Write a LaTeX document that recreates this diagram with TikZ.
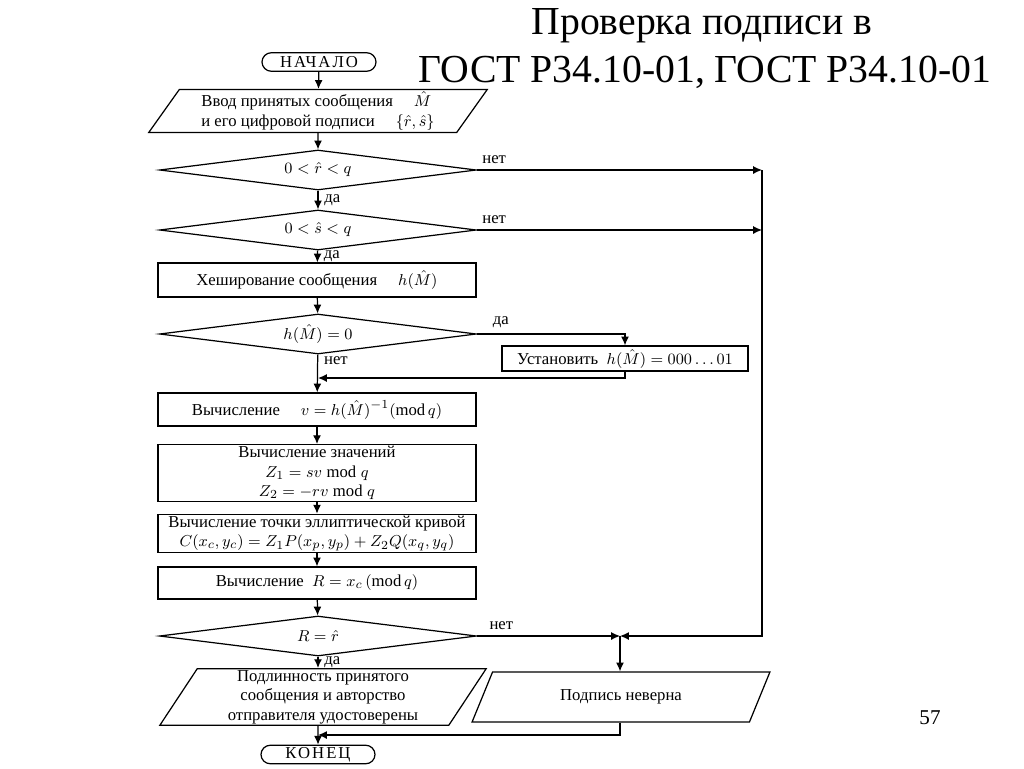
\documentclass[tikz,border=0pt]{standalone}
\usepackage{fontspec}
\setmainfont{Liberation Serif}
\newfontfamily\spacedfont[LetterSpace=12]{Liberation Serif}
\usetikzlibrary{arrows.meta, positioning, shapes, calc}

\begin{document}
\begin{tikzpicture}[x=0.02cm, y=-0.02cm, line width=0.7pt,
    font=\fontsize{9.5}{11}\selectfont,
    >={Latex[length=5pt,width=4.5pt]},
    term/.style={rounded rectangle, draw, minimum width=2.28cm, minimum height=0.37cm, inner sep=0pt,
        font=\spacedfont\fontsize{9.5}{11}\selectfont},
    proc/.style={rectangle, draw, minimum width=6.36cm, inner sep=1pt, align=center},
    cond/.style={diamond, draw, aspect=7.9, minimum width=6.34cm, minimum height=0.8cm, inner sep=0pt},
    io/.style={trapezium, draw, trapezium left angle=#1, trapezium right angle=180-#1,
        trapezium stretches=true, inner sep=1pt, align=center}]
    \useasboundingbox (0,0) rectangle (1024,768);

    % title
    \node (title) at (702,26) {\fontsize{22.6}{27}\selectfont Проверка подписи в};
    \node (title2) at (705,72) {\fontsize{22.6}{27}\selectfont ГОСТ Р34.10-01, ГОСТ Р34.10-01};
    \node (page) at (930,718) {\fontsize{12}{14}\selectfont 57};

    % main column
    \node[term] (start) at (319,62) {НАЧАЛО};
    \node[io=58, minimum width=6.78cm, minimum height=0.86cm, align=left] (input) at (318,111)
        {Ввод принятых сообщения \quad $\hat{M}$\\и его цифровой подписи \quad $\{\hat{r},\hat{s}\}$};
    \node[cond] (d1) at (318,170) {$0<\hat{r}<q$};
    \node[cond] (d2) at (318,230) {$0<\hat{s}<q$};
    \node[proc, minimum height=0.68cm] (hash) at (317,280) {Хеширование сообщения \quad $h(\hat{M})$};
    \node[cond] (d3) at (318,334) {$h(\hat{M})=0$};
    \node[proc, minimum width=4.92cm, minimum height=0.5cm] (setbox) at (625,358.5)
        {Установить \ $h(\hat{M})=000\ldots01$};
    \node[proc, minimum height=0.66cm] (calc1) at (317,409.5)
        {Вычисление \quad $v=h(\hat{M})^{-1}(\mathrm{mod}\,q)$};
    \node[proc, minimum height=0.96cm] (calc2) at (317,473)
        {Вычисление значений\\$Z_1=sv\bmod q$\\$Z_2=-rv\bmod q$};
    \node[proc, minimum height=0.74cm] (calc3) at (317,533.5)
        {Вычисление точки эллиптической кривой\\$C(x_c,y_c)=Z_1P(x_p,y_p)+Z_2Q(x_q,y_q)$};
    \node[proc, minimum height=0.64cm] (calc4) at (317,583)
        {Вычисление \ $R=x_c\,(\mathrm{mod}\,q)$};
    \node[cond] (d4) at (318,636) {$R=\hat{r}$};
    \node[io=63, minimum width=6.54cm, minimum height=1cm] (ok) at (323,697)
        {Подлинность принятого\\сообщения и авторство\\отправителя удостоверены};
    \node[io=61, minimum width=5.96cm, minimum height=1cm] (bad) at (621,697) {Подпись неверна};
    \node[term] (finish) at (318,754.5) {КОНЕЦ};

    % helper points
    \coordinate (r1) at (762,170);
    \coordinate (r2) at (762,230);
    \coordinate (r3) at (762,636);
    \coordinate (join) at (620,636);
    \coordinate (merge) at (318,378);
    \coordinate (endjoin) at (318,735);

    % connectors
    \draw[->] (start) -- (input);
    \draw[->] (input) -- (d1);
    \draw[->] (d1) -- node[right]{да} (d2);
    \draw[->] (d2) -- node[right]{да} (hash);
    \draw[->] (hash) -- (d3);
    \draw[->] (d3) -- node[pos=0.15, right]{нет} (calc1);
    \draw[->] (d3.east) -| node[pos=0.08, above]{да} (setbox.north);
    \draw[->] (setbox.south) |- (merge);
    \draw[->] (calc1) -- (calc2);
    \draw[->] (calc2) -- (calc3);
    \draw[->] (calc3) -- (calc4);
    \draw[->] (calc4) -- (d4);
    \draw[->] (d1.east) -- node[pos=0.06, above]{нет} (r1);
    \draw[->] (d2.east) -- node[pos=0.06, above]{нет} (r2);
    \draw[->] (r1) -- (r3) -- (join);
    \draw[->] (d4.east) -- node[pos=0.17, above]{нет} (join);
    \draw[->] (join) -- (join |- bad.north);
    \draw[->] (d4.south) -- node[right]{да} (d4.south |- ok.north);
    \draw[->] (ok.south -| finish) -- (finish);
    \draw[->] (bad.south -| join) |- (endjoin);
\end{tikzpicture}
\end{document}
